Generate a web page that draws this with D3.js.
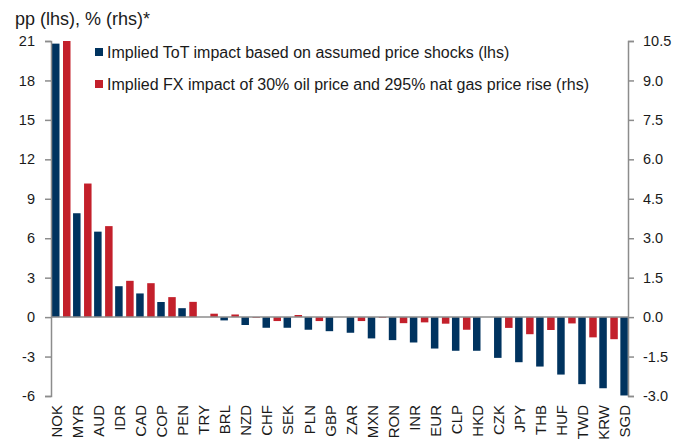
<!DOCTYPE html>
<html>
<head>
<meta charset="utf-8">
<script src="https://cdn.jsdelivr.net/npm/d3@7"></script>
<style>
  body { margin: 0; background: #fff; }
  svg text { font-family: "Liberation Sans", Arial, sans-serif; fill: #1a1a1a; }
  .axis path, .axis line { stroke: #8c8c8c; stroke-width: 1.5; }
</style>
</head>
<body>
<div id="chart"></div>
<script>
// currencies, sorted by ToT impact
const currencies = ["NOK", "MYR", "AUD", "IDR", "CAD", "COP", "PEN", "TRY", "BRL", "NZD",
  "CHF", "SEK", "PLN", "GBP", "ZAR", "MXN", "RON", "INR", "EUR", "CLP",
  "HKD", "CZK", "JPY", "THB", "HUF", "TWD", "KRW", "SGD"];

// implied ToT impact, pp (lhs)
const totImpact = [20.8, 7.9, 6.5, 2.35, 1.8, 1.15, 0.68, 0, -0.25, -0.6,
  -0.81, -0.81, -0.96, -1.07, -1.19, -1.62, -1.75, -1.93, -2.39, -2.56,
  -2.56, -3.1, -3.43, -3.76, -4.37, -5.1, -5.41, -5.96];

// implied FX impact, % (rhs)
const fxImpact = [10.5, 5.08, 3.46, 1.38, 1.29, 0.76, 0.58, 0.13, 0.1, -0.03,
  -0.15, 0.08, -0.15, 0, -0.15, -0.03, -0.23, -0.2, -0.25, -0.48,
  0, -0.41, -0.65, -0.49, -0.24, -0.77, -0.84, 0];

const leftTicks = d3.range(-6, 22, 3);
const rightTicks = d3.range(-3, 10.6, 1.5);

const legendLabels = [
  "Implied ToT impact based on assumed price shocks (lhs)",
  "Implied FX impact of 30% oil price and 295% nat gas price rise (rhs)"
];

const BLUE = "#00335f", RED = "#c3202b";

const W = 689, H = 446;
const plot = { left: 51, right: 628, top: 41, bottom: 396 };
const bandW = 21.05;

const svg = d3.select("#chart").append("svg")
  .attr("width", W).attr("height", H);

const x = d3.scaleBand()
  .domain(currencies)
  .range([plot.left, plot.left + bandW * currencies.length])
  .padding(0);

const yL = d3.scaleLinear().domain([-6, 21]).range([plot.bottom, plot.top]);
const yR = d3.scaleLinear().domain([-3, 10.5]).range([plot.bottom, plot.top]);

const fmtMinus = f => (v => f(v).replace("\u2212", "-"));

// bars
svg.append("g").selectAll("rect")
  .data(currencies)
  .join("rect")
  .attr("x", d => x(d) + 1)
  .attr("width", 7.5)
  .attr("y", (d, i) => yL(Math.max(0, totImpact[i])))
  .attr("height", (d, i) => Math.abs(yL(totImpact[i]) - yL(0)))
  .attr("fill", BLUE);

svg.append("g").selectAll("rect")
  .data(currencies)
  .join("rect")
  .attr("x", d => x(d) + 12)
  .attr("width", 7.5)
  .attr("y", (d, i) => yR(Math.max(0, fxImpact[i])))
  .attr("height", (d, i) => Math.abs(yR(fxImpact[i]) - yR(0)))
  .attr("fill", RED);

// zero line
svg.append("line")
  .attr("x1", plot.left).attr("x2", plot.right)
  .attr("y1", yL(0)).attr("y2", yL(0))
  .attr("stroke", "#8c8c8c").attr("stroke-width", 1.5);

// left axis
const gL = svg.append("g")
  .attr("class", "axis")
  .attr("transform", "translate(" + plot.left + ",0)")
  .call(d3.axisLeft(yL).tickValues(leftTicks).tickSize(6).tickSizeOuter(6)
    .tickFormat(fmtMinus(d3.format("d"))));
gL.selectAll("text").attr("x", -16).style("font-size", "14.5px");

// right axis
const gR = svg.append("g")
  .attr("class", "axis")
  .attr("transform", "translate(" + plot.right + ",0)")
  .call(d3.axisRight(yR).tickValues(rightTicks).tickSize(6).tickSizeOuter(6)
    .tickFormat(fmtMinus(d3.format(".1f"))));
gR.selectAll("text").attr("x", 15).style("font-size", "14.5px");

// category labels
svg.append("g").selectAll("text")
  .data(currencies)
  .join("text")
  .attr("transform", d => "translate(" + (x(d) + 5.5) + ",405) rotate(-90)")
  .attr("dy", "0.36em")
  .attr("text-anchor", "end")
  .style("font-size", "15px")
  .text(d => d);

// title
svg.append("text")
  .attr("x", 15).attr("y", 25)
  .style("font-size", "18px")
  .text("pp (lhs), % (rhs)*");

// legend
const lg = svg.append("g").selectAll("g")
  .data(legendLabels)
  .join("g")
  .attr("transform", (d, i) => "translate(95," + (48 + i * 32) + ")");
lg.append("rect")
  .attr("width", 8).attr("height", 8)
  .attr("fill", (d, i) => i === 0 ? BLUE : RED);
lg.append("text")
  .attr("x", 12).attr("y", 9.8)
  .style("font-size", "16px")
  .text(d => d);
</script>
</body>
</html>
